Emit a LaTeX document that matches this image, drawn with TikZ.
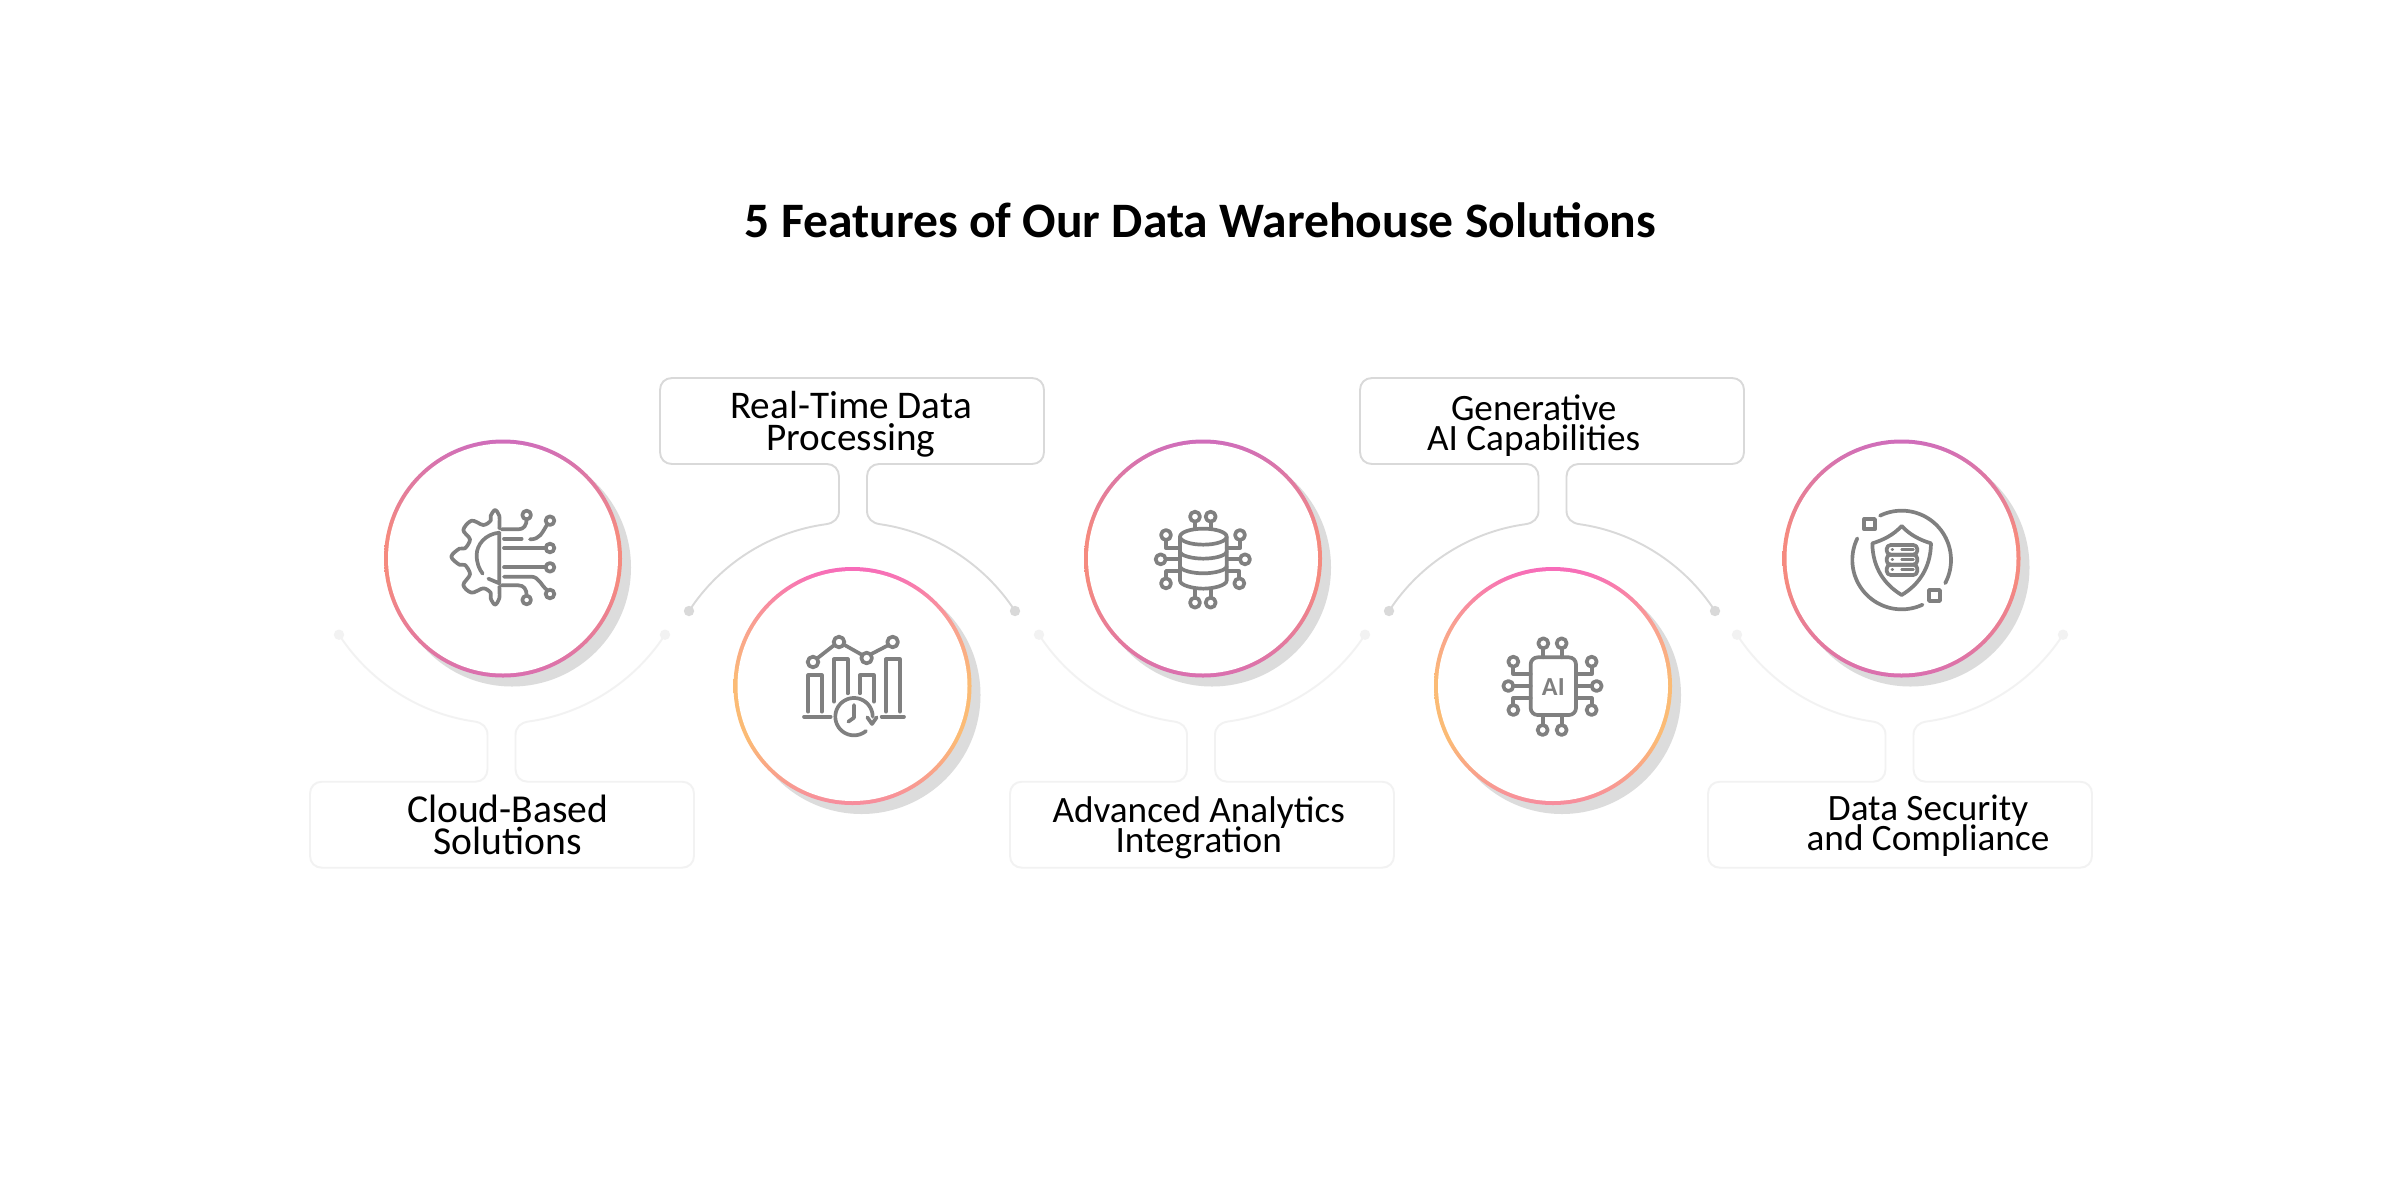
\documentclass[tikz,border=0pt]{standalone}
\usepackage{fontspec}
\setmainfont{Carlito}
\lineskiplimit=-100pt
\definecolor{boxtop}{HTML}{D9D9D9}
\definecolor{boxlow}{HTML}{F2F2F2}
\definecolor{shadowc}{HTML}{DCDCDC}
\definecolor{icong}{HTML}{808080}
\definecolor{aone}{HTML}{CF6DBB}
\definecolor{atwo}{HTML}{F58A7F}
\definecolor{athree}{HTML}{D96FB0}
\definecolor{bone}{HTML}{F76BBA}
\definecolor{btwo}{HTML}{F9A091}
\definecolor{bthree}{HTML}{FBBB75}
\definecolor{bfour}{HTML}{F78C9E}
\pgfdeclareverticalshading{ringA}{100bp}{color(0bp)=(athree); color(25bp)=(athree); color(45bp)=(atwo); color(55bp)=(atwo); color(75bp)=(aone); color(100bp)=(aone)}
\pgfdeclareverticalshading{ringB}{100bp}{color(0bp)=(bfour); color(25bp)=(bfour); color(39bp)=(bthree); color(51bp)=(bthree); color(63bp)=(btwo); color(75bp)=(bone); color(100bp)=(bone)}
\tikzset{
  dotend/.style={circle,inner sep=0pt,minimum size=5.2pt,draw=none},
  disc/.style={circle,inner sep=0pt,minimum size=115pt,fill=white,draw=none},
  labeltext/.style 2 args={inner sep=0pt,anchor=base,align=center,text=black,font=\fontsize{#1}{#2}\selectfont},
  titletext/.style={inner sep=0pt,anchor=base,text=black,font=\fontsize{24.8}{26}\selectfont\bfseries},
  iconline/.style={draw=icong,line width=1.85pt,line cap=round,line join=round},
  icontext/.style={inner sep=0pt,text=icong,font=\fontsize{13}{13}\selectfont\bfseries}
}
% name, centre x, mirror y, sign, colour, stem offset
\newcommand{\callout}[6]{%
\begin{scope}[shift={(#2,#3)},yscale=#4]
  \node[dotend,fill=#5] (#1l) at (-163,-11.5) {};
  \node[dotend,fill=#5] (#1r) at (163,-11.5) {};
  \draw[line width=0.95pt,draw=#5] (#1l.center)
    .. controls (-132.3,-58.8) and (-81.9,-90.7) .. (#6-27,-98.3)
    .. controls (#6-19,-99.5) and (#6-14,-104) .. (#6-14,-112) -- (#6-14,-146)
    .. controls (#6-14,-153) and (#6-19,-158.5) .. (#6-26,-158.5) -- (-180,-158.5)
    .. controls (-187,-158.5) and (-192,-163.5) .. (-192,-170.5) -- (-192,-232.5)
    .. controls (-192,-239.5) and (-187,-244.5) .. (-180,-244.5) -- (180,-244.5)
    .. controls (187,-244.5) and (192,-239.5) .. (192,-232.5) -- (192,-170.5)
    .. controls (192,-163.5) and (187,-158.5) .. (180,-158.5) -- (#6+26,-158.5)
    .. controls (#6+19,-158.5) and (#6+14,-153) .. (#6+14,-146) -- (#6+14,-112)
    .. controls (#6+14,-104) and (#6+19,-99.5) .. (#6+27,-98.3)
    .. controls (81.9,-90.7) and (132.3,-58.8) .. (#1r.center);
\end{scope}}
\newcommand{\ring}[4]{%
  \fill[shadowc] (#2+9,#3+9) circle[radius=119];
  \shade[shading=#4] (#2,#3) circle[radius=119];
  \node[disc] (#1) at (#2,#3) {};}
\begin{document}
\begin{tikzpicture}[x=0.5pt,y=-0.5pt]
\useasboundingbox (0,0) rectangle (2400,1200);
\fill[white] (0,0) rectangle (2400,1200);
\node[titletext] (title) at (1200.5,237.7) {5 Features of Our Data Warehouse Solutions};

\callout{ca}{502}{623.2}{-1}{boxlow}{-0.5}
\callout{cb}{852}{622.5}{1}{boxtop}{1}
\callout{cc}{1202}{623.2}{-1}{boxlow}{-1}
\callout{cd}{1552}{622.5}{1}{boxtop}{0.5}
\callout{ce}{1900}{623.2}{-1}{boxlow}{-0.5}

\node[labeltext={19.8}{15.7}] (la) at (507.8,854.2) {Cloud-Based\\Solutions};
\node[labeltext={19.6}{15.65}] (lb) at (851,450) {Real-Time Data\\Processing};
\node[labeltext={18.6}{15}] (lc) at (1198.7,852.7) {Advanced Analytics\\Integration};
\node[labeltext={18.6}{15}] (ld) at (1533.7,450) {Generative\\AI Capabilities};
\node[labeltext={18.6}{15}] (le) at (1928,850) {Data Security\\and Compliance};

\ring{ra}{503}{558.5}{ringA}
\ring{rb}{852.5}{686}{ringB}
\ring{rc}{1203}{558.5}{ringA}
\ring{rd}{1553}{686}{ringB}
\ring{re}{1901.5}{558.5}{ringA}

% icon 1
\begin{scope}[shift={(420,480)},scale=0.3333]
\draw[iconline] plot[smooth,tension=0.55] coordinates {(238,145) (238,108) (225,90) (212,108) (212,122) (190,135) (155,122) (130,150) (150,178) (135,205) (118,206) (94,230) (118,254) (135,255) (150,283) (130,315) (155,338) (190,325) (212,338) (212,355) (225,374) (238,355) (238,320)};
\draw[iconline] (238,158) -- (238,310) -- (205,296);
\draw[iconline] (238,158) .. controls (195,162) and (170,195) .. (170,225) .. controls (170,250) and (178,268) .. (188,281);
\draw[iconline] (245,148) -- (295,148) .. controls (312,148) and (320,135) .. (320,117);
\draw[iconline] (320,105) circle[radius=13];
\draw[iconline] (252,176) -- (305,176);
\draw[iconline] (330,178) .. controls (360,178) and (365,160) .. (382,133);
\draw[iconline] (390,122) circle[radius=13];
\draw[iconline] (252,204) -- (377,204);
\draw[iconline] (390,204) circle[radius=13];
\draw[iconline] (252,262) -- (377,262);
\draw[iconline] (390,262) circle[radius=13];
\draw[iconline] (252,290) -- (335,290) .. controls (358,292) and (362,315) .. (382,331);
\draw[iconline] (390,342) circle[radius=13];
\draw[iconline] (245,316) -- (295,316) .. controls (312,316) and (320,328) .. (320,347);
\draw[iconline] (320,360) circle[radius=13];
\end{scope}

% icon 2
\begin{scope}[shift={(780,620)},scale=0.3333]
\draw[iconline] (113,114) -- (163,75);
\draw[iconline] (192,74) -- (245,104);
\draw[iconline] (274,102) -- (324,76);
\draw[iconline] (99,126) circle[radius=16];
\draw[iconline] (177,66) circle[radius=16];
\draw[iconline] (260,114) circle[radius=16];
\draw[iconline] (338,66) circle[radius=16];
\draw[iconline] (85,275) -- (85,166) -- (125,166) -- (125,275);
\draw[iconline] (162,245) -- (162,118) -- (203,118) -- (203,220);
\draw[iconline] (240,220) -- (240,166) -- (282,166) -- (282,245);
\draw[iconline] (318,275) -- (318,118) -- (360,118) -- (360,275);
\draw[iconline] (72,290) -- (152,290);
\draw[iconline] (305,290) -- (372,290);
\draw[iconline] plot[domain=50:360,samples=60] ({222+56*cos(\x)},{290+56*sin(\x)});
\draw[iconline] (262,292) -- (276,312) -- (290,292);
\draw[iconline] (222,255) -- (222,293) -- (205,305);
\end{scope}

% icon 3
\begin{scope}[shift={(1130,490)},scale=0.3333]
\draw[iconline] (220,140) ellipse[x radius=70,y radius=24];
\draw[iconline] (150,140) -- (150,272) .. controls (150,286) and (190,296) .. (220,296) .. controls (250,296) and (290,286) .. (290,272) -- (290,140);
\draw[iconline] (150,184) .. controls (150,198) and (190,206) .. (220,206) .. controls (250,206) and (290,198) .. (290,184);
\draw[iconline] (150,228) .. controls (150,242) and (190,250) .. (220,250) .. controls (250,250) and (290,242) .. (290,228);
\foreach \cx/\cy in {195/80,242/80,108/135,92/208,108/280,330/135,345/208,328/280,195/338,242/338}
  \draw[iconline] (\cx,\cy) circle[radius=15];
\draw[iconline] (195,95) -- (195,116);
\draw[iconline] (242,95) -- (242,116);
\draw[iconline] (108,150) -- (108,175) -- (150,175);
\draw[iconline] (107,208) -- (150,208);
\draw[iconline] (108,265) -- (108,243) -- (150,243);
\draw[iconline] (330,150) -- (330,175) -- (290,175);
\draw[iconline] (330,208) -- (290,208);
\draw[iconline] (328,265) -- (328,243) -- (290,243);
\draw[iconline] (195,323) -- (195,296);
\draw[iconline] (242,323) -- (242,296);
\end{scope}

% icon 4
\begin{scope}[shift={(1480,620)},scale=0.3333]
\draw[iconline,rounded corners=3.5pt] (152,112) rectangle (288,285);
\node[icontext] (ait) at (220,200) {AI};
\foreach \cx/\cy in {190/70,245/70,100/125,85/198,100/270,335/125,350/198,335/270,188/330,245/330}
  \draw[iconline] (\cx,\cy) circle[radius=15];
\draw[iconline] (190,85) -- (190,112);
\draw[iconline] (245,85) -- (245,112);
\draw[iconline] (100,140) -- (100,162) -- (152,162);
\draw[iconline] (100,198) -- (152,198);
\draw[iconline] (100,255) -- (100,235) -- (152,235);
\draw[iconline] (335,140) -- (335,162) -- (288,162);
\draw[iconline] (335,198) -- (288,198);
\draw[iconline] (335,255) -- (335,235) -- (288,235);
\draw[iconline] (188,315) -- (188,285);
\draw[iconline] (245,315) -- (245,285);
\end{scope}

% icon 5
\begin{scope}[shift={(1830,490)},scale=0.3333]
\draw[iconline] plot[domain=-116:28,samples=60] ({215+148*cos(\x)},{210+148*sin(\x)});
\draw[iconline] plot[domain=65:206,samples=60] ({215+148*cos(\x)},{210+148*sin(\x)});
\draw[iconline] (103,87) rectangle (135,118);
\draw[iconline] (297,300) rectangle (330,333);
\draw[iconline] (215,108) .. controls (190,135) and (160,150) .. (127,160) .. controls (128,235) and (165,285) .. (215,315) .. controls (265,285) and (302,235) .. (303,160) .. controls (270,150) and (240,135) .. (215,108);
\draw[iconline,rounded corners=2pt] (170,165) rectangle (262,194);
\draw[iconline,rounded corners=2pt] (170,194) rectangle (262,224);
\draw[iconline,rounded corners=2pt] (170,224) rectangle (262,255);
\draw[iconline,line width=1.4pt] (186,179) -- (188,179) (215,179) -- (250,179);
\draw[iconline,line width=1.4pt] (186,209) -- (188,209) (215,209) -- (250,209);
\draw[iconline,line width=1.4pt] (186,239) -- (188,239) (215,239) -- (250,239);
\end{scope}
\end{tikzpicture}
\end{document}
